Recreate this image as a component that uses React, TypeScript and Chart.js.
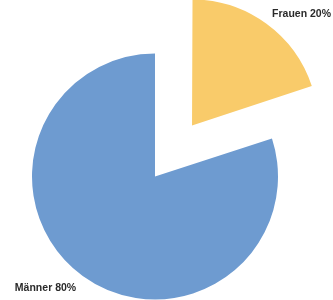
import React, { useEffect, useRef } from "react";
import { Chart, registerables } from "chart.js";

Chart.register(...registerables);

const categories = ["Frauen", "Männer"];
const shares = [20, 80];
const sliceLabels = ["Frauen 20%", "Männer 80%"];
const sliceColors = ["#F9CB6A", "#6E9BD0"];
const sliceOffsets = [252, 0];

const outsideLabels = {
  id: "outsideLabels",
  afterDatasetsDraw(chart: any) {
    const ctx = chart.ctx;
    const meta = chart.getDatasetMeta(0);
    ctx.save();
    ctx.font = "bold 10.5px 'Liberation Sans', Arial, sans-serif";
    ctx.fillStyle = "#2a2a2a";
    ctx.textAlign = "center";
    ctx.textBaseline = "middle";
    meta.data.forEach((arc: any, i: number) => {
      const mid = (arc.startAngle + arc.endAngle) / 2;
      const off = (arc.options.offset || 0) / 4;
      const cx = arc.x + Math.cos(mid) * off;
      const cy = arc.y + Math.sin(mid) * off;
      const a = mid + (8.5 * Math.PI) / 180;
      const d = arc.outerRadius * 1.27;
      ctx.fillText(sliceLabels[i], cx + Math.cos(a) * d, cy + Math.sin(a) * d);
    });
    ctx.restore();
  },
};

export default function App() {
  const ref = useRef<HTMLCanvasElement | null>(null);
  useEffect(() => {
    if (!ref.current) return;
    const chart = new Chart(ref.current, {
      type: "pie",
      data: {
        labels: categories,
        datasets: [
          {
            data: shares,
            backgroundColor: sliceColors,
            borderWidth: 0,
            offset: sliceOffsets,
            radius: 123,
            cutout: "0%",
            clip: false,
          } as any,
        ],
      },
      options: {
        responsive: false,
        animation: false,
        layout: { padding: { left: 0, right: 23, top: 53, bottom: 0 } },
        plugins: { legend: { display: false }, tooltip: { enabled: false } },
      } as any,
      plugins: [outsideLabels],
    });
    return () => chart.destroy();
  }, []);
  return (
    <div style={{ position: "fixed", left: 0, top: 0, width: 333, height: 300, background: "#fff" }}>
      <canvas ref={ref} width={333} height={300} />
    </div>
  );
}
